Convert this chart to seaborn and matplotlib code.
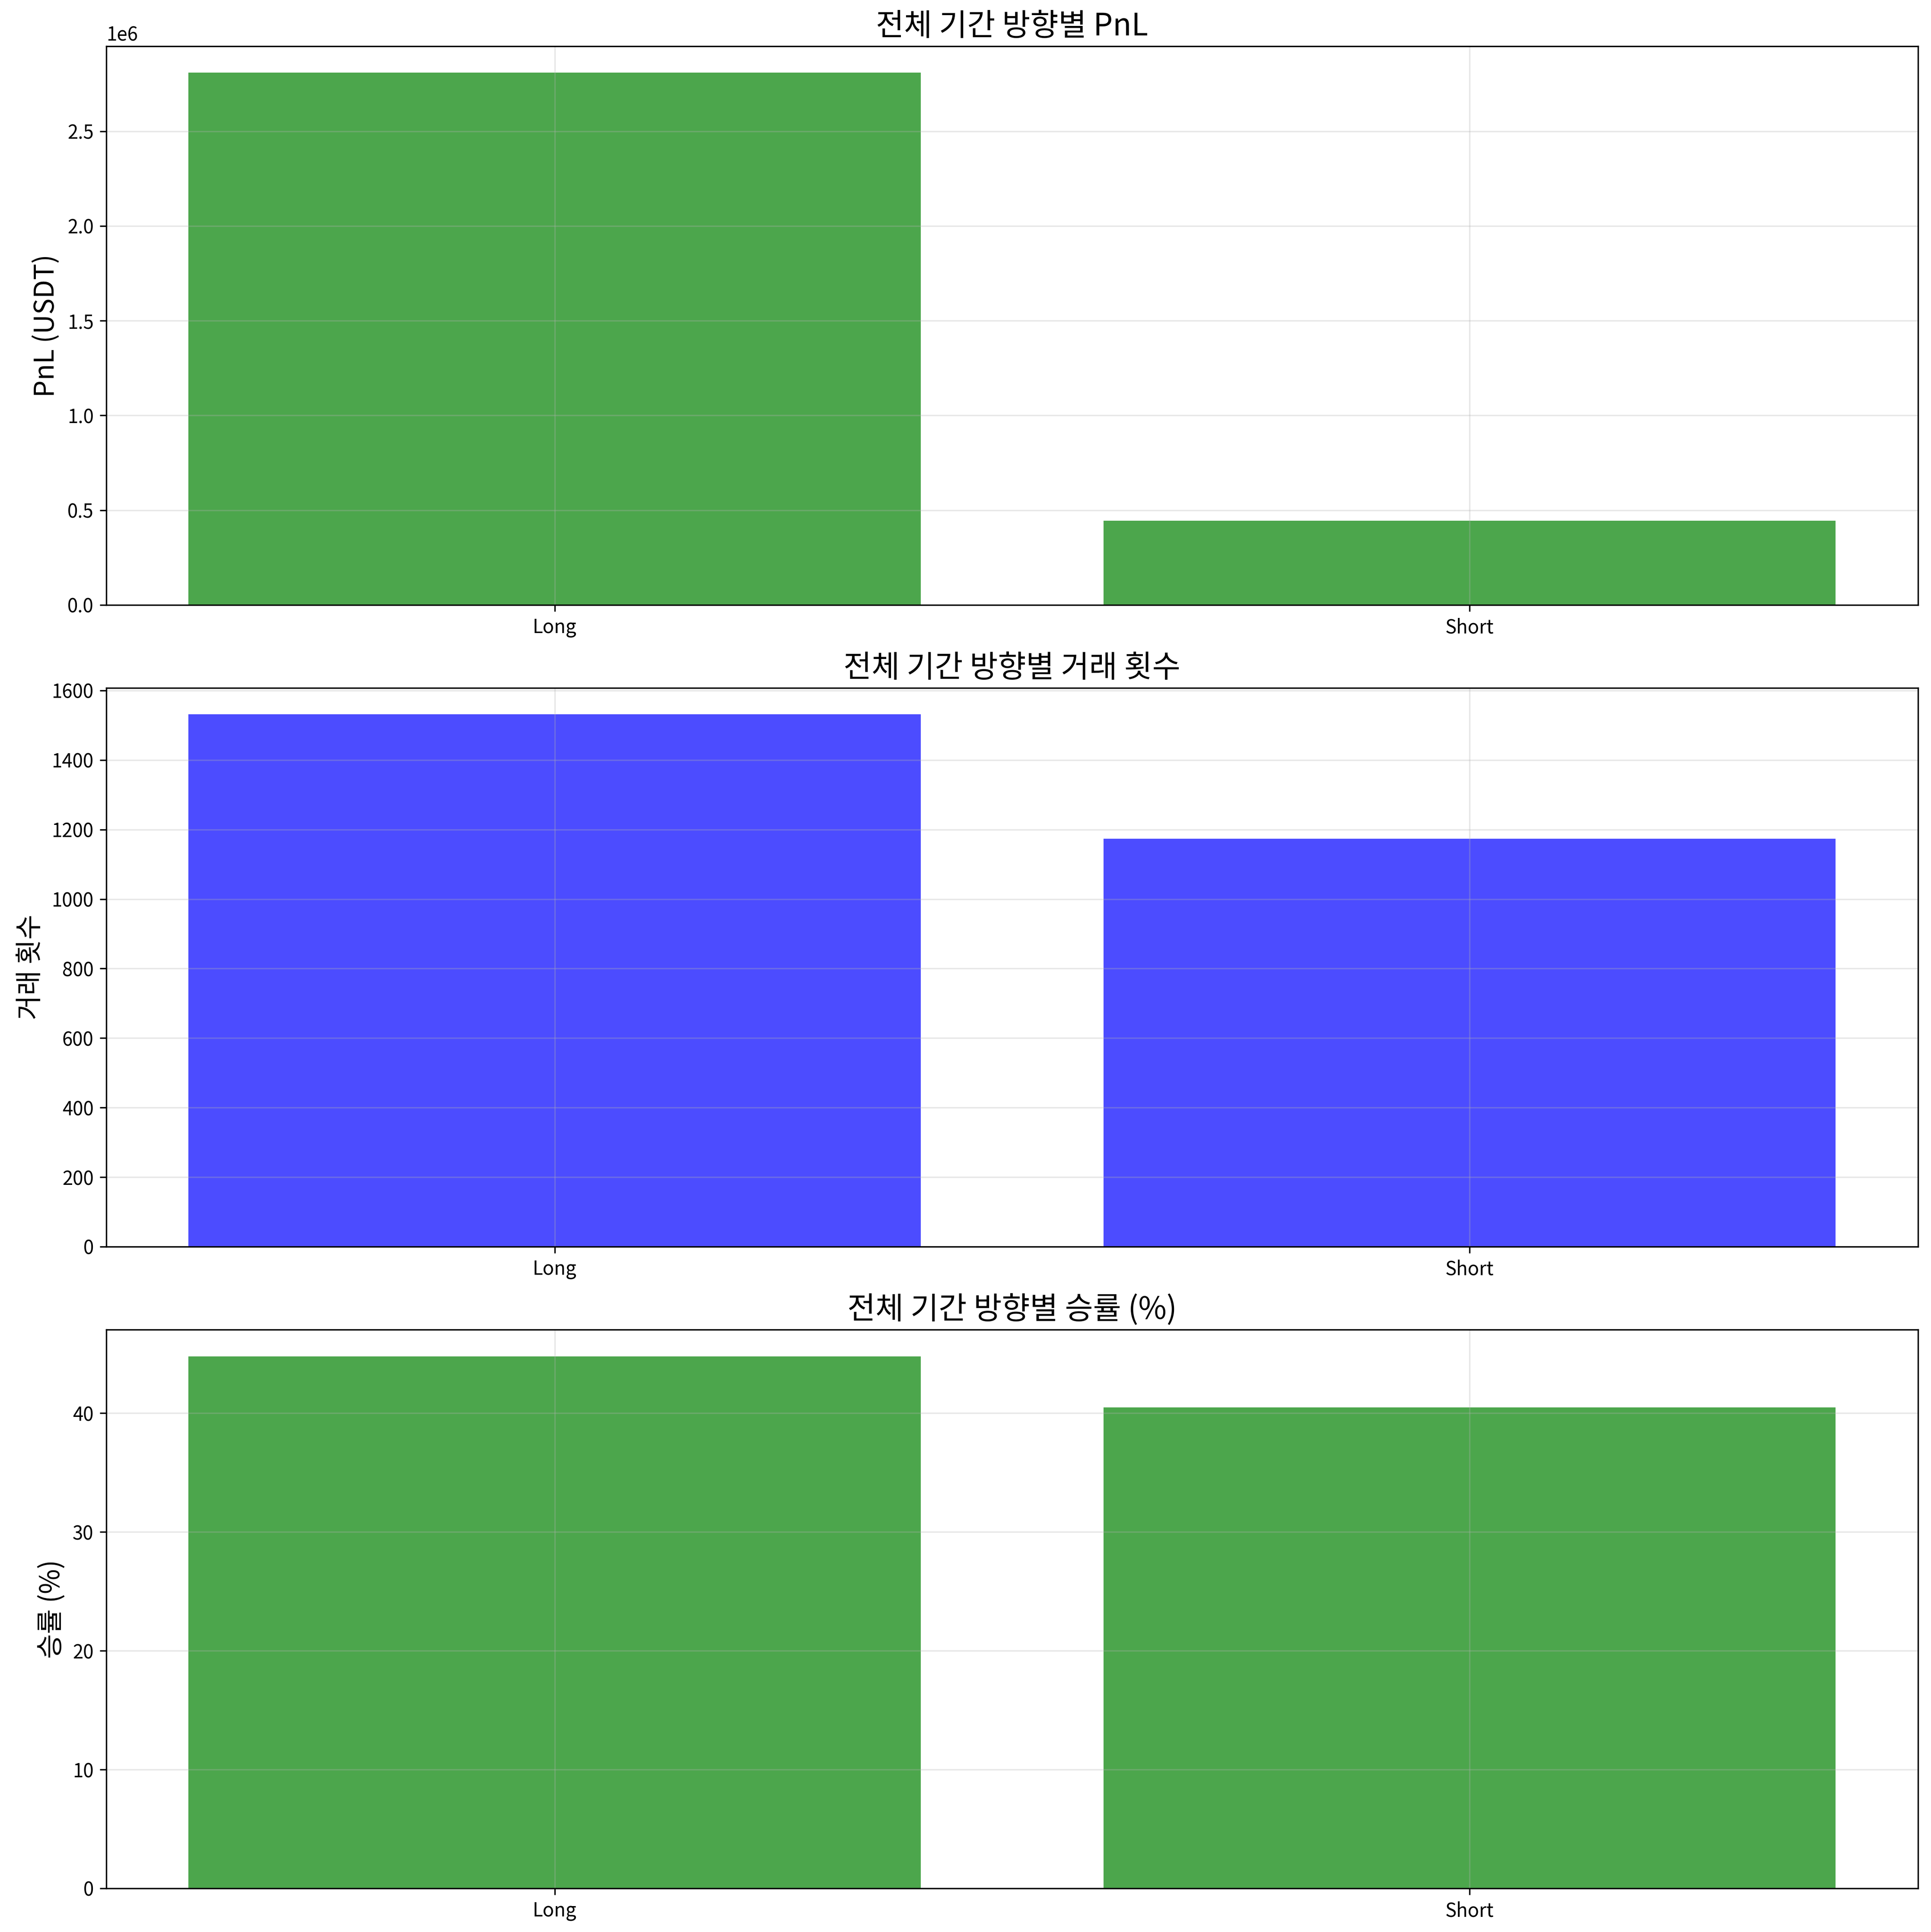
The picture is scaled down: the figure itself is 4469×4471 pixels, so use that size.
import matplotlib
matplotlib.use("Agg")
import matplotlib.pyplot as plt
import seaborn as sns
import pandas as pd

directions = ["Long", "Short"]
pnl_values = [2.808e6, 0.444e6]
trade_counts = [1531, 1173]
win_rates = [44.8, 40.5]

plt.rcParams['font.family'] = ['Noto Sans CJK KR', 'DejaVu Sans']
plt.rcParams['axes.unicode_minus'] = False
plt.rcParams['xtick.labelsize'] = 10.5
plt.rcParams['ytick.labelsize'] = 10.5

fig, axes = plt.subplots(3, 1, figsize=(4469 / 300, 4471 / 300), dpi=300)
fig.subplots_adjust(left=0.055, right=0.9933, top=0.9761, bottom=0.0226,
                    hspace=0.1485)

panels = [
    (pnl_values, "green", "전체 기간 방향별 PnL", "PnL (USDT)"),
    (trade_counts, "blue", "전체 기간 방향별 거래 횟수", "거래 횟수"),
    (win_rates, "green", "전체 기간 방향별 승률 (%)", "승률 (%)"),
]

for ax, (vals, col, title, ylabel) in zip(axes, panels):
    df = pd.DataFrame({"direction": directions, "value": vals})
    sns.barplot(data=df, x="direction", y="value", color=col, alpha=0.7,
                saturation=1, width=0.8, ax=ax)
    ax.set_xlim(-0.49, 1.49)
    ax.set_title(title, fontsize=17)
    ax.set_ylabel(ylabel, fontsize=15)
    ax.set_xlabel("")
    ax.grid(True, alpha=0.3)
    for s in ax.spines.values():
        s.set_visible(True)
        s.set_color("black")

fig.savefig("out.png", dpi=300)
